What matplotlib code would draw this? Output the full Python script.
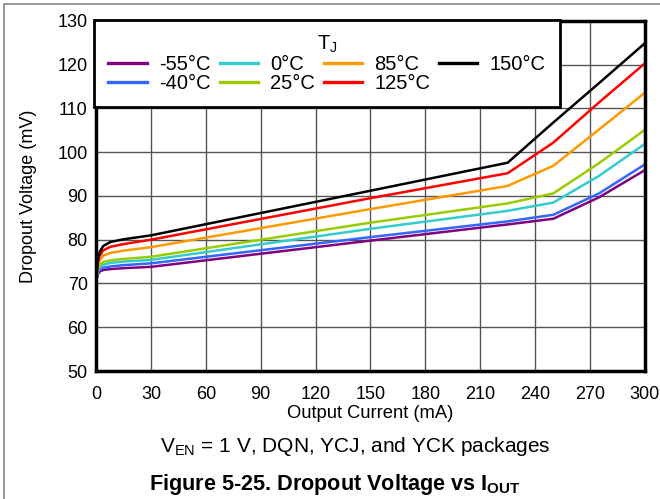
import matplotlib.pyplot as plt
import numpy as np

plt.rcParams["font.family"] = ["Liberation Sans", "DejaVu Sans"]
plt.rcParams["mathtext.fontset"] = "custom"
plt.rcParams["mathtext.rm"] = "Liberation Sans"
plt.rcParams["mathtext.it"] = "Liberation Sans"
plt.rcParams["mathtext.bf"] = "Liberation Sans:bold"

# output current (mA)
i_out = [0, 1, 2, 4, 8, 15, 30, 150, 225, 250, 275, 300]

# dropout voltage (mV) per junction temperature
v_m55 = [70.5, 72.0, 72.7, 73.1, 73.3, 73.5, 73.8, 79.8, 83.5, 84.8, 89.7, 95.9]
v_m40 = [70.5, 72.3, 73.1, 73.6, 73.9, 74.2, 74.6, 80.6, 84.2, 85.7, 90.6, 97.2]
v_0 = [70.5, 72.8, 73.7, 74.3, 74.7, 75.0, 75.4, 82.5, 86.6, 88.5, 94.6, 101.9]
v_25 = [70.5, 73.2, 74.2, 74.9, 75.3, 75.6, 76.1, 83.9, 88.3, 90.6, 97.5, 105.1]
v_85 = [70.5, 74.0, 75.3, 76.4, 77.0, 77.5, 78.3, 87.0, 92.3, 96.9, 105.2, 113.6]
v_125 = [70.5, 74.8, 76.3, 77.6, 78.4, 79.0, 80.0, 89.5, 95.2, 102.2, 111.4, 120.3]
v_150 = [70.5, 75.5, 77.2, 78.6, 79.5, 80.1, 81.0, 91.2, 97.6, 106.8, 115.8, 124.9]

labels = ["-55°C", "-40°C", "0°C", "25°C", "85°C", "125°C", "150°C"]
series = [v_m55, v_m40, v_0, v_25, v_85, v_125, v_150]
colors = ["#800080", "#3366ff", "#33cccc", "#99cc00", "#ff9900", "#ff0000", "#000000"]

fig = plt.figure(figsize=(6.6, 4.99), dpi=100)
ax = fig.add_axes([0.1455, 0.2565, 0.8315, 0.7015])

for v, lab, c in zip(series, labels, colors):
    ax.plot(i_out, v, color=c, lw=1.8, label=lab, solid_joinstyle="miter")

ax.set_xlim(0, 300)
ax.set_ylim(50, 130)
ax.set_xticks(np.arange(0, 301, 30))
ax.set_yticks(np.arange(50, 131, 10))
ax.grid(True, color="#555555", lw=1.0)
ax.set_axisbelow(True)
ax.tick_params(length=0, labelsize=13)
ax.tick_params(axis="x", pad=11)
ax.tick_params(axis="y", pad=6)
for s in ax.spines.values():
    s.set_linewidth(2.5)
    s.set_color("black")

ax.set_xlabel("Output Current (mA)", fontsize=13.2, labelpad=1)
ax.set_ylabel("Dropout Voltage (mV)", fontsize=13, labelpad=15)

leg = ax.legend(
    loc="upper left", ncol=4, title="T$_\\mathrm{J}$", fontsize=14.5,
    title_fontsize=14.5, frameon=True, fancybox=False, framealpha=1,
    edgecolor="black", borderaxespad=0, handlelength=1.9, handletextpad=0.6,
    columnspacing=0.45, labelspacing=0.0, borderpad=0.7,
    bbox_to_anchor=(-0.003, 1.003),
)
leg.get_frame().set_linewidth(2)
for h in leg.legend_handles:
    h.set_linewidth(2.4)

fig.text(0.539, 0.106, "V$_\\mathrm{EN}$ = 1 V, DQN, YCJ, and YCK packages",
         ha="center", va="center", fontsize=15)
fig.text(0.508, 0.030, "Figure 5-25. Dropout Voltage vs I$_\\mathbf{OUT}$",
         ha="center", va="center", fontsize=15.6, fontweight="bold")

border = plt.Rectangle((0.006, -0.01), 1.1, 1.002, transform=fig.transFigure,
                       fill=False, edgecolor="#888888", lw=1.2)
fig.patches.append(border)

fig.savefig("out.png", dpi=100)
